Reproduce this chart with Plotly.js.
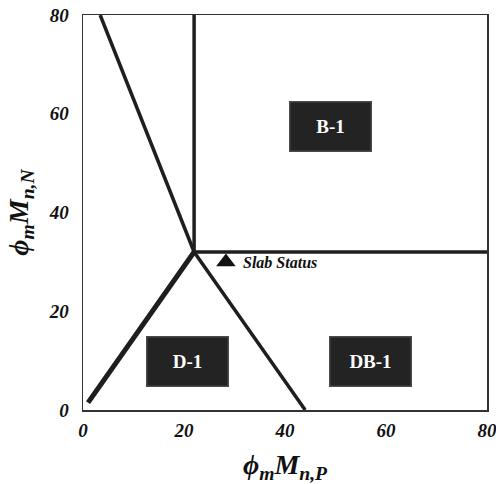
<!DOCTYPE html>
<html>
<head>
<meta charset="utf-8">
<script src="https://cdn.plot.ly/plotly-3.0.1.min.js"></script>
<style>html,body{margin:0;padding:0;background:#fff;}#chart{width:496px;height:484px;}</style>
</head>
<body>
<div id="chart"></div>
<script>
// Boundary lines (data coordinates)
var upperDiagX = [3.4, 22];
var upperDiagY = [80, 32];
var verticalX = [22, 22];
var verticalY = [32, 80];
var horizontalX = [22, 80];
var horizontalY = [32, 32];
var lowerDiagX = [22, 44];
var lowerDiagY = [32, 0];
var risingX = [1, 22];
var risingY = [1.5, 32];

// Slab status point
var slabX = [28.3];
var slabY = [30];
var slabLabel = 'Slab Status';

// Region labels
var regionLabels = ['B-1', 'D-1', 'DB-1'];
var regionX = [49.0, 20.6, 57.0];
var regionY = [57.4, 9.9, 9.9];

// Ticks
var tickVals = [0, 20, 40, 60, 80];
var tickText = ['0', '20', '40', '60', '80'];

var lineColor = '#1e1e1e';
function seg(x, y, w) {
  return {x: x, y: y, mode: 'lines', type: 'scatter', hoverinfo: 'skip',
          line: {color: lineColor, width: w}, showlegend: false};
}

var traces = [
  seg(upperDiagX, upperDiagY, 3.5),
  seg(verticalX, verticalY, 3.5),
  seg(horizontalX, horizontalY, 3.5),
  seg(lowerDiagX, lowerDiagY, 3.5),
  seg(risingX, risingY, 5),
  {x: slabX, y: slabY, mode: 'markers', type: 'scatter', showlegend: false,
   marker: {symbol: 'triangle-up', size: 17, color: '#111'}}
];

var serif = 'Liberation Serif, Times New Roman, serif';
var annotations = regionLabels.map(function (t, i) {
  return {x: regionX[i], y: regionY[i], xref: 'x', yref: 'y', text: t, showarrow: false,
          font: {family: serif, size: 19, color: '#ffffff', weight: 'bold'},
          bgcolor: '#232323', bordercolor: '#4a4a4a', borderwidth: 1.5,
          width: 78, height: 46, align: 'center', valign: 'middle'};
});
annotations.push({x: slabX[0], y: slabY[0], xref: 'x', yref: 'y', text: slabLabel,
  showarrow: false, xanchor: 'left', yanchor: 'middle', xshift: 15, yshift: -1,
  font: {family: serif, size: 16, color: '#111', weight: 'bold', style: 'italic'}});

var tickFont = {family: serif, size: 19, color: '#111', weight: 'bold', style: 'italic'};
var titleFont = {family: serif, size: 28, color: '#111', weight: 'bold', style: 'italic'};

var layout = {
  width: 496, height: 484,
  margin: {l: 83, r: 9, t: 15, b: 74},
  paper_bgcolor: '#ffffff', plot_bgcolor: '#ffffff',
  showlegend: false,
  xaxis: {range: [0, 80], tickvals: tickVals, ticktext: tickText, showgrid: false, zeroline: false,
          showline: true, mirror: true, linecolor: '#333', linewidth: 1.5, ticks: '',
          tickfont: tickFont, ticklabelstandoff: 3, ticklabeloverflow: 'allow',
          title: {text: 'ϕ<sub>m</sub>M<sub>n,P</sub>', font: titleFont, standoff: 14}},
  yaxis: {range: [0, 80], tickvals: tickVals, ticktext: tickText, showgrid: false, zeroline: false,
          showline: true, mirror: true, linecolor: '#333', linewidth: 1.5, ticks: '',
          tickfont: tickFont, ticklabelstandoff: 9, ticklabeloverflow: 'allow',
          title: {text: 'ϕ<sub>m</sub>M<sub>n,N</sub>', font: titleFont, standoff: 12}},
  annotations: annotations
};

Plotly.newPlot('chart', traces, layout, {staticPlot: true, displayModeBar: false});
</script>
</body>
</html>
